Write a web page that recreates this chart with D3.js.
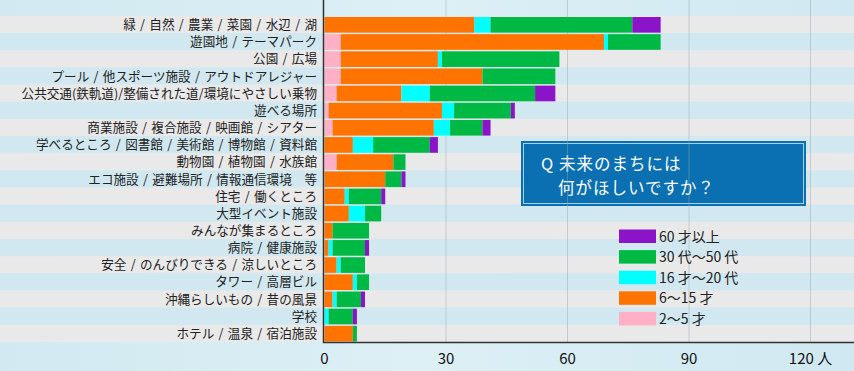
<!DOCTYPE html>
<html>
<head>
<meta charset="utf-8">
<script src="https://cdn.jsdelivr.net/npm/d3@7"></script>
<style>
  body { margin: 0; background: #d3eaf2; }
  svg { display: block; font-family: "Noto Sans CJK JP", "Noto Sans", sans-serif; }
</style>
</head>
<body>
<svg width="854" height="371"></svg>
<script>
// categories, top to bottom
var categories = [
  "緑 / 自然 / 農業 / 菜園 / 水辺 / 湖",
  "遊園地 / テーマパーク",
  "公園 / 広場",
  "プール / 他スポーツ施設 / アウトドアレジャー",
  "公共交通(鉄軌道)/整備された道/環境にやさしい乗物",
  "遊べる場所",
  "商業施設 / 複合施設 / 映画館 / シアター",
  "学べるところ / 図書館 / 美術館 / 博物館 / 資料館",
  "動物園 / 植物園 / 水族館",
  "エコ施設 / 避難場所 / 情報通信環境　等",
  "住宅 / 働くところ",
  "大型イベント施設",
  "みんなが集まるところ",
  "病院 / 健康施設",
  "安全 / のんびりできる / 涼しいところ",
  "タワー / 高層ビル",
  "沖縄らしいもの / 昔の風景",
  "学校",
  "ホテル / 温泉 / 宿泊施設"
];

// one array per age group, same order as categories
var age2to5   = [0, 4, 4, 4, 3, 1, 2, 0, 3, 0, 0, 0, 0, 0, 0, 0, 0, 0, 0];
var age6to15  = [37, 65, 24, 35, 16, 28, 25, 7, 14, 15, 5, 6, 2, 1, 3, 7, 2, 0, 7];
var age16to20 = [4, 1, 1, 0, 7, 3, 4, 5, 0, 0, 1, 4, 0, 1, 1, 1, 1, 1, 0];
var age30to50 = [35, 13, 29, 18, 26, 14, 8, 14, 3, 4, 8, 4, 9, 8, 6, 3, 6, 6, 1];
var age60up   = [7, 0, 0, 0, 5, 1, 2, 2, 0, 1, 1, 0, 0, 1, 0, 0, 1, 1, 0];

var series = [
  {key: "a", label: "2～5 才",      color: "#ffb0c6", values: age2to5},
  {key: "b", label: "6～15 才",     color: "#ff7300", values: age6to15},
  {key: "c", label: "16 才～20 代", color: "#00ffff", values: age16to20},
  {key: "d", label: "30 代～50 代", color: "#00b944", values: age30to50},
  {key: "e", label: "60 才以上",    color: "#8a14c8", values: age60up}
];

var xTicks = [0, 30, 60, 90, 120];

var svg = d3.select("svg"),
    width = +svg.attr("width"),
    height = +svg.attr("height");

var x = d3.scaleLinear().domain([0, 120]).range([324.5, 810.5]);
var y = d3.scaleBand().domain(categories).range([16, 342]);

// table for d3.stack
var table = categories.map(function(c, i) {
  var row = {name: c};
  series.forEach(function(s) { row[s.key] = s.values[i]; });
  return row;
});
var stacked = d3.stack().keys(series.map(function(s) { return s.key; }))(table);

// background gradient
var defs = svg.append("defs");
var grad = defs.append("linearGradient").attr("id", "bg").attr("x1", 0).attr("x2", 1);
grad.append("stop").attr("offset", 0).attr("stop-color", "#d2e9f1");
grad.append("stop").attr("offset", 0.5).attr("stop-color", "#dcf0f5");
grad.append("stop").attr("offset", 1).attr("stop-color", "#d0e8f1");
svg.append("rect").attr("width", width).attr("height", height).attr("fill", "url(#bg)");

// stripes
svg.append("g").selectAll("rect")
  .data(categories)
  .enter().append("rect")
  .attr("x", 0)
  .attr("y", function(d) { return y(d); })
  .attr("width", width)
  .attr("height", y.bandwidth())
  .attr("fill", function(d, i) { return i % 2 == 0 ? "#e9e9e9" : "#d1e8f0"; });

// title box (sits under the grid lines)
var box = svg.append("g");
box.append("rect")
  .attr("x", 521).attr("y", 141).attr("width", 285).attr("height", 65)
  .attr("fill", "#0a70b2");
box.append("rect")
  .attr("x", 523.5).attr("y", 143.5).attr("width", 280).attr("height", 60)
  .attr("fill", "none").attr("stroke", "#a8cfe9").attr("stroke-width", 1);
box.append("text")
  .attr("x", 541).attr("y", 170)
  .attr("font-size", 16.5).attr("letter-spacing", 1).attr("fill", "#fff")
  .text("Q 未来のまちには");
box.append("text")
  .attr("x", 558).attr("y", 194)
  .attr("font-size", 16.5).attr("letter-spacing", 1).attr("fill", "#fff")
  .text("何がほしいですか？");

// grid
svg.append("g").selectAll("line")
  .data(xTicks.slice(1))
  .enter().append("line")
  .attr("x1", function(d) { return x(d); })
  .attr("x2", function(d) { return x(d); })
  .attr("y1", 0)
  .attr("y2", 342)
  .attr("stroke", "#9aa4ab")
  .attr("stroke-opacity", 0.45)
  .attr("stroke-width", 1);

// bars
svg.append("g").selectAll("g")
  .data(stacked)
  .enter().append("g")
  .attr("fill", function(d, i) { return series[i].color; })
  .selectAll("rect")
  .data(function(d) { return d; })
  .enter().append("rect")
  .attr("x", function(d) { return x(d[0]); })
  .attr("y", function(d) { return y(d.data.name) + 1; })
  .attr("width", function(d) { return x(d[1]) - x(d[0]); })
  .attr("height", y.bandwidth() - 1.5);

// category labels
svg.append("g").selectAll("text")
  .data(categories)
  .enter().append("text")
  .attr("x", 317)
  .attr("y", function(d) { return y(d) + y.bandwidth() / 2; })
  .attr("dy", "0.36em")
  .attr("text-anchor", "end")
  .attr("font-size", 12.6)
  .attr("word-spacing", 1.5)
  .attr("fill", "#222")
  .text(function(d) { return d; });

// axis lines
svg.append("line")
  .attr("x1", 323.5).attr("x2", 323.5).attr("y1", 0).attr("y2", 343)
  .attr("stroke", "#333").attr("stroke-width", 1.5);
svg.append("line")
  .attr("x1", 323).attr("x2", width).attr("y1", 342.5).attr("y2", 342.5)
  .attr("stroke", "#333").attr("stroke-width", 1.5);

// tick labels
svg.append("g").selectAll("text")
  .data(xTicks)
  .enter().append("text")
  .attr("x", function(d) { return x(d); })
  .attr("y", 359)
  .attr("dy", "0.36em")
  .attr("text-anchor", "middle")
  .attr("font-size", 15)
  .attr("fill", "#111")
  .text(function(d) { return d == 120 ? d + " 人" : d; });

// legend, oldest on top
var legend = svg.append("g").selectAll("g")
  .data(series.slice().reverse())
  .enter().append("g")
  .attr("transform", function(d, i) { return "translate(619," + (229.5 + i * 20.6) + ")"; });
legend.append("rect")
  .attr("width", 37).attr("height", 13.5)
  .attr("fill", function(d) { return d.color; });
legend.append("text")
  .attr("x", 40).attr("y", 7)
  .attr("dy", "0.36em")
  .attr("font-size", 14)
  .attr("fill", "#222")
  .text(function(d) { return d.label; });
</script>
</body>
</html>
